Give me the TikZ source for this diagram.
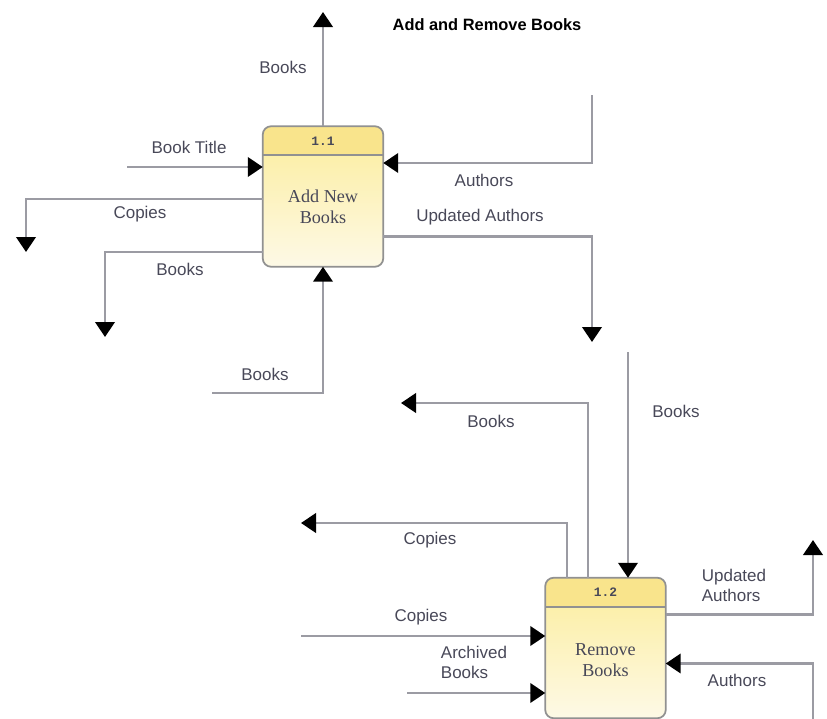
\documentclass[tikz,border=0pt]{standalone}
\usepackage{fontspec}
\setmainfont{Liberation Sans}
\setmonofont{Liberation Mono}
\newfontfamily\procfont{Liberation Serif}
\usepackage{xcolor}
\usetikzlibrary{positioning, arrows.meta, calc}

\definecolor{flujo}{RGB}{155,155,163}
\definecolor{etiqueta}{RGB}{72,72,88}
\definecolor{cabecera}{RGB}{249,228,140}
\definecolor{cuerpoA}{RGB}{252,237,155}
\definecolor{cuerpoB}{RGB}{253,249,230}
\definecolor{borde}{RGB}{145,145,145}

\begin{document}
\begin{tikzpicture}[x=0.03cm, y=-0.03cm,
    flow/.style={draw=flujo, line width=2.5pt, -{Triangle[length=0.45cm, width=0.58cm, color=black]}},
    lbl/.style={text=etiqueta, font=\fontsize{14.5}{17}\selectfont, inner sep=1pt, align=left},
    proc/.style={minimum width=3.6cm, minimum height=4.2cm, rounded corners=0.25cm,
        top color=cuerpoA, bottom color=cuerpoB, inner sep=0pt},
    proctext/.style={text=etiqueta, font=\procfont\fontsize{15.5}{18}\selectfont, align=center},
    procid/.style={text=etiqueta, font=\ttfamily\bfseries\fontsize{11}{12}\selectfont}]

    \useasboundingbox (0,0) rectangle (827,719);

    % Titulo
    \node[font=\bfseries\fontsize{14}{16}\selectfont] (titulo) at (487,25) {Add and Remove Books};

    % Procesos
    \node[proc] (p11) at (323,196.5) {};
    \node[proc] (p12) at (605.5,648) {};

    \foreach \p/\n in {p11/1.1, p12/1.2} {
        \begin{scope}
            \clip[rounded corners=0.25cm] (\p.north west) rectangle (\p.south east);
            \fill[cabecera] (\p.north west) rectangle ($(\p.north east)+(0,29)$);
        \end{scope}
        \draw[borde, line width=1.5pt, rounded corners=0.25cm] (\p.north west) rectangle (\p.south east);
        \draw[borde, line width=1.5pt] ($(\p.north west)+(0,29)$) -- ($(\p.north east)+(0,29)$);
        \node[procid] (\p id) at ($(\p.north)+(0,14.5)$) {\n};
    }
    \node[proctext] (p11txt) at ($(p11.center)+(0,10.5)$) {Add New\\Books};
    \node[proctext] (p12txt) at ($(p12.center)+(0,12)$) {Remove\\Books};

    % Extremos libres de los flujos
    \coordinate (booksUp) at (323,12);
    \coordinate (titleIn) at (127,167);
    \coordinate (copiesOut) at (26,252);
    \coordinate (booksOut) at (105,337);
    \coordinate (booksIn) at (212,393);
    \coordinate (authIn) at (592,95);
    \coordinate (updOut) at (592,342);

    \coordinate (booksIn2) at (628,352);
    \coordinate (booksOut2) at (401,403);
    \coordinate (copiesOut2) at (301,523);
    \coordinate (copiesIn2) at (301,636);
    \coordinate (archIn) at (407,693);
    \coordinate (updOut2) at (813,540);
    \coordinate (authIn2) at (813,719);

    % Flujos de 1.1
    \draw[flow] (p11.north) -- (booksUp);
    \draw[flow] (titleIn) -- (titleIn -| p11.west);
    \draw[flow] ($(p11.west)+(0,2.5)$) -| (copiesOut);
    \draw[flow] ($(p11.west)+(0,55.5)$) -| (booksOut);
    \draw[flow] (booksIn) -| (p11.south);
    \draw[flow] (authIn) |- ($(p11.east)+(0,-33.5)$);
    \draw[flow] ($(p11.east)+(0,40)$) -| (updOut);

    % Flujos de 1.2
    \draw[flow] (booksIn2) -- (booksIn2 |- p12.north);
    \draw[flow] ($(p12.north)+(-17.5,0)$) |- (booksOut2);
    \draw[flow] ($(p12.north)+(-38.5,0)$) |- (copiesOut2);
    \draw[flow] (copiesIn2) -- (copiesIn2 -| p12.west);
    \draw[flow] (archIn) -- (archIn -| p12.west);
    \draw[flow] ($(p12.east)+(0,-33.5)$) -| (updOut2);
    \draw[flow] (authIn2) |- ($(p12.east)+(0,15.5)$);

    % Etiquetas
    \node[lbl] (lBooksUp) at (283,67) {Books};
    \node[lbl] (lTitle) at (189,147) {Book Title};
    \node[lbl] (lCopies) at (140,214) {Copies};
    \node[lbl] (lBooksOut) at (180,269) {Books};
    \node[lbl] (lBooksIn) at (265,374) {Books};
    \node[lbl] (lAuth) at (484,180) {Authors};
    \node[lbl] (lUpd) at (480,217) {Updated Authors};

    \node[lbl] (lBooksIn2) at (676,411) {Books};
    \node[lbl] (lBooksOut2) at (491,421) {Books};
    \node[lbl] (lCopiesOut2) at (430,540) {Copies};
    \node[lbl] (lCopiesIn2) at (421,617) {Copies};
    \node[lbl] (lArch) at (474,662) {Archived\\Books};
    \node[lbl] (lUpd2) at (734,585) {Updated\\Authors};
    \node[lbl] (lAuth2) at (737,680) {Authors};
\end{tikzpicture}
\end{document}
